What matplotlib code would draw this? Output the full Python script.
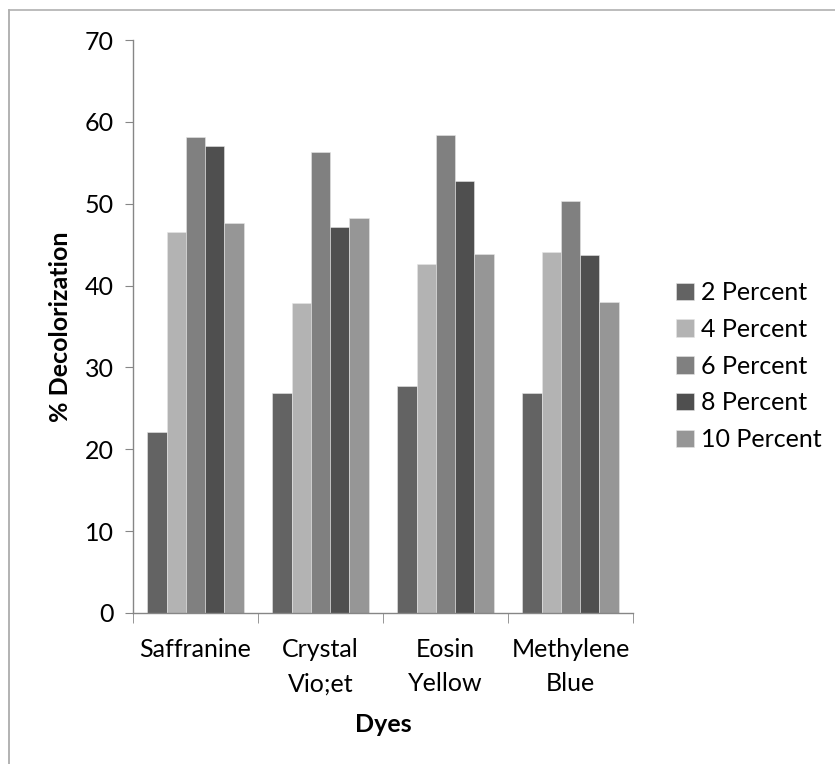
import matplotlib
matplotlib.use("Agg")
import matplotlib.pyplot as plt
import numpy as np
from matplotlib.lines import Line2D

plt.rcParams['font.family'] = ['Lato', 'DejaVu Sans']

categories = ["Saffranine", "Crystal\nVio;et", "Eosin\nYellow", "Methylene\nBlue"]
series_names = ["2 Percent", "4 Percent", "6 Percent", "8 Percent", "10 Percent"]
p2 = [22.1, 26.9, 27.7, 26.9]
p4 = [46.5, 37.9, 42.6, 44.1]
p6 = [58.2, 56.3, 58.4, 50.3]
p8 = [57.0, 47.2, 52.8, 43.7]
p10 = [47.6, 48.3, 43.8, 38.0]
series = [p2, p4, p6, p8, p10]
colors = ["#636363", "#b3b3b3", "#808080", "#4f4f4f", "#969696"]

W, H = 835, 764
fig = plt.figure(figsize=(W/100, H/100), dpi=100)
ax = fig.add_axes([133/W, 1-613/H, (633-133)/W, (613-40)/H])

x = np.arange(len(categories))
bw = 0.154
n = len(series)
for i, (vals, c, name) in enumerate(zip(series, colors, series_names)):
    ax.bar(x + (i - (n-1)/2)*bw, vals, bw, color=c, label=name,
           edgecolor="#e6e6e6", linewidth=0.4)

ax.set_xlim(-0.5, len(categories)-0.5)
ax.set_ylim(0, 70)
ax.set_yticks(np.arange(0, 71, 10))
axis_col = "#868686"
for s in ["top", "right"]:
    ax.spines[s].set_visible(False)
for s in ["left", "bottom"]:
    ax.spines[s].set_color(axis_col)
    ax.spines[s].set_linewidth(1.0)
fs = 18
ax.tick_params(axis='y', length=6, color=axis_col, labelsize=fs, pad=8, labelcolor="black")
ax.set_xticks(x)
ax.set_xticklabels(categories, fontsize=fs, linespacing=1.6)
ax.tick_params(axis='x', length=0, pad=18)
# category boundary ticks
ax.set_xticks(np.arange(-0.5, len(categories), 1.0), minor=True)
ax.tick_params(axis='x', which='minor', length=7, color=axis_col)

ax.set_ylabel("% Decolorization", fontsize=fs, fontweight='bold', labelpad=9)
ax.set_xlabel("Dyes", fontsize=fs, fontweight='bold', labelpad=13)

handles, labels = ax.get_legend_handles_labels()
leg = fig.legend(handles, labels, loc='center left', bbox_to_anchor=(676/W, 1-366/H),
                 frameon=False, fontsize=fs, handlelength=0.7, handleheight=0.7,
                 handletextpad=0.3, labelspacing=0.55, borderpad=0, borderaxespad=0)

# figure border (left and top)
fig.add_artist(Line2D([8.5/W, 8.5/W], [0, 1-10/H], color="#a6a6a6", lw=1.2, transform=fig.transFigure))
fig.add_artist(Line2D([8.5/W, 1], [1-10/H, 1-10/H], color="#b0b0b0", lw=1.2, transform=fig.transFigure))

fig.savefig("out.png", dpi=100)
